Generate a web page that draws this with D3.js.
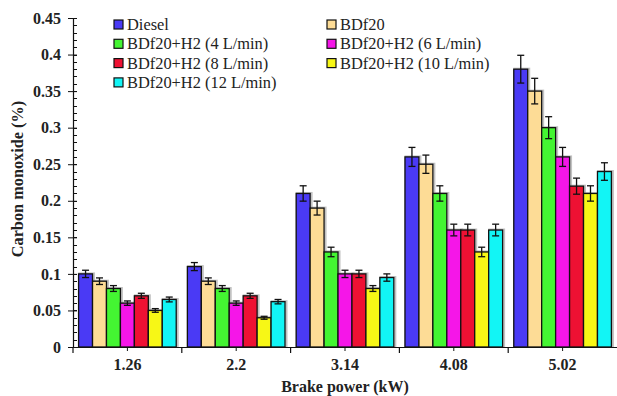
<!DOCTYPE html>
<html>
<head>
<meta charset="utf-8">
<script src="https://cdn.jsdelivr.net/npm/d3@7"></script>
<style>
body { margin: 0; background: white; }
</style>
</head>
<body>
<script>
// chart data
var categories = ["1.26", "2.2", "3.14", "4.08", "5.02"];
var seriesNames = ["Diesel", "BDf20", "BDf20+H2 (4 L/min)", "BDf20+H2 (6 L/min)",
	"BDf20+H2 (8 L/min)", "BDf20+H2 (10 L/min)", "BDf20+H2 (12 L/min)"];
var seriesColours = ["#4a3af5", "#fddc96", "#44f532", "#f516e8", "#ee1133", "#f7f716", "#12f5f5"];
var diesel = [0.10, 0.11, 0.21, 0.26, 0.38];
var bdf20 = [0.09, 0.09, 0.19, 0.25, 0.35];
var h2_4 = [0.08, 0.08, 0.13, 0.21, 0.30];
var h2_6 = [0.06, 0.06, 0.10, 0.16, 0.26];
var h2_8 = [0.07, 0.07, 0.10, 0.16, 0.22];
var h2_10 = [0.05, 0.04, 0.08, 0.13, 0.21];
var h2_12 = [0.065, 0.062, 0.095, 0.16, 0.24];
var errDiesel = [0.005, 0.0055, 0.0105, 0.013, 0.019];
var errBdf20 = [0.0045, 0.0045, 0.0095, 0.0125, 0.0175];
var errH2_4 = [0.004, 0.004, 0.0065, 0.0105, 0.015];
var errH2_6 = [0.003, 0.003, 0.005, 0.008, 0.013];
var errH2_8 = [0.0035, 0.0035, 0.005, 0.008, 0.011];
var errH2_10 = [0.0025, 0.002, 0.004, 0.0065, 0.0105];
var errH2_12 = [0.0033, 0.003, 0.005, 0.008, 0.012];
var yTicks = [0, 0.05, 0.1, 0.15, 0.2, 0.25, 0.3, 0.35, 0.4, 0.45];

var values = [diesel, bdf20, h2_4, h2_6, h2_8, h2_10, h2_12];
var errors = [errDiesel, errBdf20, errH2_4, errH2_6, errH2_8, errH2_10, errH2_12];
var serif = "Liberation Serif";

/*Workspace*/
var svg = d3.select("body").append("svg")
	.attr("width", 617).attr("height", 396)
	.style("font-family", serif);

var x0 = d3.scaleBand().domain(categories).range([73, 617]).padding(0);
var x1 = d3.scaleBand().domain(d3.range(seriesNames.length))
	.range([0, x0.bandwidth()]).paddingInner(0).paddingOuter(0.4);
var y = d3.scaleLinear().domain([0, 0.45]).range([347, 18]);

/*flatten into one row per bar*/
var bars = [];
categories.forEach(function(c, i){
	seriesNames.forEach(function(s, j){
		bars.push({cat: c, s: j, v: values[j][i], e: errors[j][i]});
	});
});

var plot = svg.append("g");

// soft grey shadow behind bars
plot.selectAll("rect.shadow").data(bars).enter().append("rect")
	.attr("class", "shadow")
	.attr("x", function(d){ return x0(d.cat) + x1(d.s) + 0.5; })
	.attr("y", function(d){ return y(d.v) - 0.5; })
	.attr("width", x1.bandwidth() + 1)
	.attr("height", function(d){ return y(0) - y(d.v) + 0.5; })
	.attr("fill", "none").attr("stroke", "#999").attr("stroke-width", 2).attr("opacity", 0.6);

plot.selectAll("rect.bar").data(bars).enter().append("rect")
	.attr("class", "bar")
	.attr("x", function(d){ return x0(d.cat) + x1(d.s); })
	.attr("y", function(d){ return y(d.v); })
	.attr("width", x1.bandwidth())
	.attr("height", function(d){ return y(0) - y(d.v); })
	.attr("fill", function(d){ return seriesColours[d.s]; })
	.attr("stroke", "#111").attr("stroke-width", 1.3);

/*error bars*/
var eb = plot.selectAll("g.err").data(bars).enter().append("g")
	.attr("transform", function(d){ return "translate(" + (x0(d.cat) + x1(d.s) + x1.bandwidth() / 2) + ",0)"; })
	.attr("stroke", "#111").attr("stroke-width", 1.3);
eb.append("line").attr("x1", 0).attr("x2", 0)
	.attr("y1", function(d){ return y(d.v + d.e); })
	.attr("y2", function(d){ return y(d.v - d.e); });
eb.append("line").attr("x1", -3.5).attr("x2", 3.5)
	.attr("y1", function(d){ return y(d.v + d.e); })
	.attr("y2", function(d){ return y(d.v + d.e); });
eb.append("line").attr("x1", -3.5).attr("x2", 3.5)
	.attr("y1", function(d){ return y(d.v - d.e); })
	.attr("y2", function(d){ return y(d.v - d.e); });

/*Y axis*/
var yAxis = svg.append("g").attr("transform", "translate(73,0)")
	.call(d3.axisLeft(y).tickValues(yTicks).tickSize(5)
		.tickFormat(function(d){ return String(+d.toFixed(2)); }));
yAxis.attr("font-family", null);
yAxis.select(".domain").attr("stroke", "#111").attr("stroke-width", 1.2);
yAxis.selectAll(".tick line").attr("stroke", "#111").attr("x2", 4).attr("x1", -5);
yAxis.selectAll(".tick text")
	.attr("x", -12)
	.style("font-family", serif)
	.style("font-size", "16px").style("font-weight", "bold").attr("fill", "#222");

var minor = d3.range(0, 0.451, 0.01);
svg.append("g").selectAll("line").data(minor).enter().append("line")
	.attr("x1", 73).attr("x2", 77)
	.attr("y1", function(d){ return Math.round(y(d)) + 0.5; })
	.attr("y2", function(d){ return Math.round(y(d)) + 0.5; })
	.attr("stroke", "#111").attr("stroke-width", 1);

/*X axis*/
var xAxis = svg.append("g").attr("transform", "translate(0,347)")
	.call(d3.axisBottom(x0).tickSize(4).tickSizeOuter(0));
xAxis.attr("font-family", null);
xAxis.select(".domain").attr("stroke", "#111").attr("stroke-width", 1.2);
xAxis.selectAll(".tick line").attr("stroke", "#111");
xAxis.selectAll(".tick text")
	.attr("y", 12)
	.style("font-family", serif)
	.style("font-size", "16px").style("font-weight", "bold").attr("fill", "#222");

// group boundary ticks
svg.append("g").selectAll("line").data(categories).enter().append("line")
	.attr("x1", function(d){ return x0(d); }).attr("x2", function(d){ return x0(d); })
	.attr("y1", 347).attr("y2", 353)
	.attr("stroke", "#111").attr("stroke-width", 1.2);

/*axis titles*/
svg.append("text")
	.attr("x", 345).attr("y", 392)
	.attr("text-anchor", "middle").attr("fill", "#222")
	.style("font-family", serif)
	.style("font-size", "16px").style("font-weight", "bold")
	.text("Brake power (kW)");

svg.append("text")
	.attr("transform", "translate(23,179) rotate(-90)")
	.attr("text-anchor", "middle").attr("fill", "#222")
	.style("font-family", serif)
	.style("font-size", "16.3px").style("font-weight", "bold")
	.text("Carbon monoxide (%)");

/*legend*/
var legend = svg.append("g");
var item = legend.selectAll("g").data(seriesNames).enter().append("g")
	.attr("transform", function(d, i){
		var col = i % 2, row = Math.floor(i / 2);
		return "translate(" + (col === 0 ? 114 : 327) + "," + (20 + row * 19.3) + ")";
	});
item.append("rect")
	.attr("width", 9).attr("height", 9)
	.attr("fill", function(d, i){ return seriesColours[i]; })
	.attr("stroke", "#111").attr("stroke-width", 1.2);
item.append("text")
	.attr("x", 13).attr("y", 10).attr("fill", "#222")
	.style("font-family", serif)
	.style("font-size", "16.4px")
	.text(function(d){ return d; });
</script>
</body>
</html>
